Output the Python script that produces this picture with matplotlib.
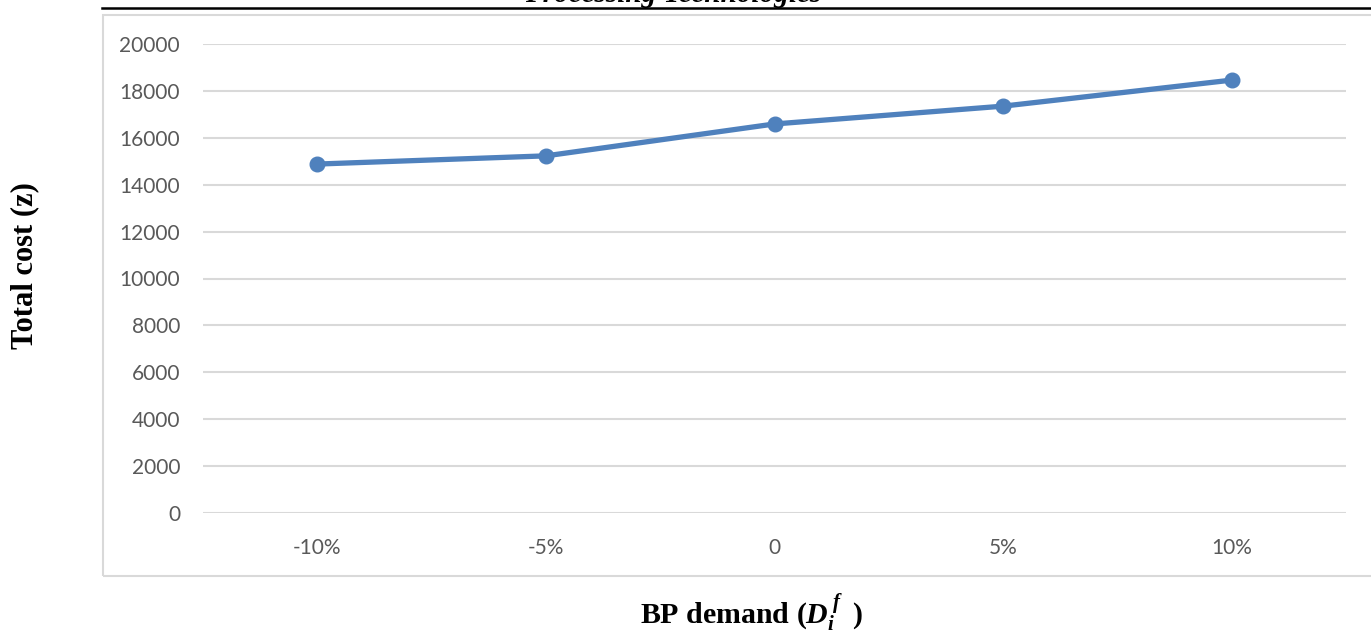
import matplotlib
matplotlib.use("Agg")
import matplotlib.pyplot as plt
from matplotlib.patches import Rectangle
from matplotlib.lines import Line2D

categories = ["-10%", "-5%", "0", "5%", "10%"]
total_cost = [14880, 15230, 16590, 17350, 18460]
y_ticks = [0, 2000, 4000, 6000, 8000, 10000, 12000, 14000, 16000, 18000, 20000]

plt.rcParams['mathtext.fontset'] = 'custom'
plt.rcParams['mathtext.rm'] = 'Liberation Serif:bold'
plt.rcParams['mathtext.it'] = 'Liberation Serif:italic:bold'
plt.rcParams['mathtext.bf'] = 'Liberation Serif:bold'
try:
    plt.rcParams['mathtext.bfit'] = 'Liberation Serif:italic:bold'
except Exception:
    pass

W, H = 1371, 633
fig = plt.figure(figsize=(W / 100, H / 100), dpi=100)

def fx(px):
    return px / W

def fy(py):
    return 1 - py / H

ax = fig.add_axes([fx(203), fy(513), fx(1346) - fx(203), fy(44) - fy(513)])
x = list(range(len(categories)))
ax.plot(x, total_cost, color='#4F81BD', lw=3.8, marker='o', markersize=10.5,
        solid_capstyle='round', zorder=3, clip_on=False)
ax.set_xlim(-0.5, len(categories) - 0.5)
ax.set_ylim(0, 20000)
ax.set_yticks(y_ticks)
ax.set_yticklabels([str(v) for v in y_ticks])
ax.set_xticks(x)
ax.set_xticklabels(categories)
for s in ax.spines.values():
    s.set_visible(False)
ax.grid(axis='y', color='#D9D9D9', lw=1.5, zorder=0)
ax.set_axisbelow(True)
ax.tick_params(axis='both', length=0, labelsize=15, labelcolor='#595959')
ax.tick_params(axis='y', pad=16.5)
ax.tick_params(axis='x', pad=18)
for lab in ax.get_xticklabels() + ax.get_yticklabels():
    lab.set_fontfamily('Lato')

# chart border
fig.patches.append(Rectangle((fx(103), fy(576)), fx(1380) - fx(103), fy(15) - fy(576),
                             transform=fig.transFigure, fill=False,
                             edgecolor='#D9D9D9', lw=1.5, zorder=0))
# top black rule
fig.lines.append(Line2D([fx(102), 1.0], [fy(7.5), fy(7.5)], transform=fig.transFigure,
                        color='black', lw=1.8))

fig.text(fx(673), fy(2), 'Processing Technologies', family='Liberation Serif',
         style='italic', weight='bold', fontsize=21, ha='center', va='baseline')

fig.text(fx(24.5), fy(266), 'Total cost (z)', family='Liberation Serif', weight='bold',
         fontsize=22, rotation=90, ha='center', va='center')

fig.text(fx(640), fy(612),
         r'BP demand ($\mathbfit{D}_{\mathbfit{i}}^{\;\mathbfit{f}}\;\;$)',
         family='Liberation Serif', weight='bold', fontsize=21.5, ha='left', va='center')

fig.savefig('out.png', dpi=100)
